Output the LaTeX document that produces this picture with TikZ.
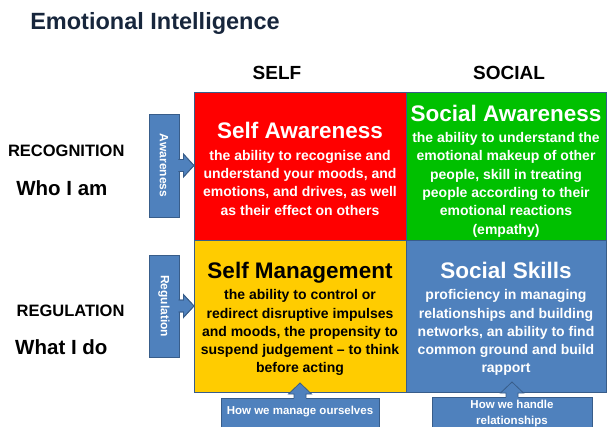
\documentclass[tikz,border=0pt]{standalone}
\usepackage{fontspec}
\setmainfont{Liberation Sans}
\usetikzlibrary{positioning,calc}
\definecolor{eired}{HTML}{FF0000}
\definecolor{eigreen}{HTML}{00C000}
\definecolor{eiyellow}{HTML}{FFCC00}
\definecolor{eiblue}{HTML}{4F81BD}
\definecolor{eiedge}{HTML}{385D8A}
\definecolor{einavy}{HTML}{17263C}
\newcommand{\qtfont}{\fontsize{22.5}{26}\selectfont}
\tikzset{
  quad/.style={draw=eiedge, line width=1pt, inner sep=0pt, outer sep=0pt},
  qtext/.style={align=center, text=white, yshift=-3pt, font=\bfseries\fontsize{14}{18.3}\selectfont},
  tab/.style={draw=eiedge, fill=eiblue, line width=0.8pt, text=white,
    font=\bfseries\fontsize{12}{13}\selectfont},
  callout/.style={draw=eiedge, fill=eiblue, line width=0.8pt},
  head/.style={font=\bfseries\fontsize{16.5}{18}\selectfont, anchor=east},
  sub/.style={font=\bfseries\fontsize{20.5}{22}\selectfont, anchor=east},
  col/.style={font=\bfseries\fontsize{19}{20}\selectfont}
}
\begin{document}
\begin{tikzpicture}[x=1pt, y=-1pt]
  \useasboundingbox (0,0) rectangle (609,426);
  % headings
  \node[font=\bfseries\fontsize{23.5}{26}\selectfont, text=einavy] (eititle) at (155,23) {Emotional Intelligence};
  \node[col] (self) at (277,72.5) {SELF};
  \node[col] (social) at (509,72.5) {SOCIAL};
  \node[head] (recog) at (128,151) {RECOGNITION};
  \node[sub] (who) at (111,188.5) {Who I am};
  \node[head] (regul) at (128,311) {REGULATION};
  \node[sub] (what) at (111,347) {What I do};
  % quadrants
  \node[quad, fill=eired, minimum width=212pt, minimum height=148pt] (sa) at (300,166) {};
  \node[quad, fill=eigreen, minimum width=200pt, minimum height=148pt, right=0pt of sa] (sw) {};
  \node[quad, fill=eiyellow, minimum width=212pt, minimum height=152pt, below=0pt of sa] (sm) {};
  \node[quad, fill=eiblue, minimum width=200pt, minimum height=152pt, below=0pt of sw] (ss) {};
  \node[qtext] (satext) at (sa) {{\qtfont Self Awareness}\\[3pt]
     the ability to recognise and\\ understand your moods, and\\
     emotions, and drives, as well\\ as their effect on others};
  \node[qtext, yshift=-2pt] (swtext) at (sw) {{\qtfont Social Awareness}\\[3pt]
     the ability to understand the\\ emotional makeup of other\\
     people, skill in treating\\ people according to their\\
     emotional reactions\\ (empathy)};
  \node[qtext, text=black] (smtext) at (sm) {{\qtfont Self Management}\\[3pt]
     the ability to control or\\ redirect disruptive impulses\\
     and moods, the propensity to\\ suspend judgement -- to think\\ before acting};
  \node[qtext] (sstext) at (ss) {{\qtfont Social Skills}\\[3pt]
     proficiency in managing\\ relationships and building\\
     networks, an ability to find\\ common ground and build\\ rapport};
  % side tabs
  \node[tab, minimum width=30pt, minimum height=103pt] (aw) at (164,165.5) {\rotatebox{-90}{Awareness}};
  \node[tab, minimum width=30pt, minimum height=102pt] (rg) at (164,306) {\rotatebox{-90}{Regulation}};
  \foreach \t/\q in {aw/sa, rg/sm}
    \fill[callout] ($(\t.east)+(-1,-6)$) -- ++(5,0) -- ++(0,-5.5) -- (\t.east -| \q.west)
      -- ($(\t.east)+(4,11.5)$) -- ++(0,-5.5) -- ($(\t.east)+(-1,6)$);
  \foreach \t/\q in {aw/sa, rg/sm}
    \draw[eiedge, line width=0.8pt, line join=miter] ($(\t.east)+(0,-6)$) -- ++(4,0) -- ++(0,-5.5) -- (\t.east -| \q.west)
      -- ($(\t.east)+(4,11.5)$) -- ++(0,-5.5) -- ($(\t.east)+(0,6)$);
  % bottom tabs
  \node[tab, font=\bfseries\fontsize{11.5}{15.5}\selectfont, anchor=north, minimum width=158pt,
    text height=12pt, text depth=20pt, inner ysep=4pt] (hm) at (300,398) {How we manage ourselves};
  \node[tab, font=\bfseries\fontsize{11.5}{15.5}\selectfont, anchor=north, minimum width=160pt,
    text height=27pt, text depth=12pt, inner ysep=0pt] (hr) at (512,397)
    {\begin{tabular}[b]{@{}c@{}}How we handle\\relationships\end{tabular}};
  \foreach \t in {hm, hr} {
    \fill[callout, draw=none] ($(\t.north)+(-6,1)$) -- ++(0,-5) -- ++(-5.5,0) -- ($(\t.north)+(0,-15)$)
      -- ($(\t.north)+(11.5,-4)$) -- ++(-5.5,0) -- ($(\t.north)+(6,1)$);
    \draw[eiedge, line width=0.8pt] ($(\t.north)+(-6,0)$) -- ++(0,-4) -- ++(-5.5,0) -- ($(\t.north)+(0,-15)$)
      -- ($(\t.north)+(11.5,-4)$) -- ++(-5.5,0) -- ($(\t.north)+(6,0)$);
  }
\end{tikzpicture}
\end{document}
